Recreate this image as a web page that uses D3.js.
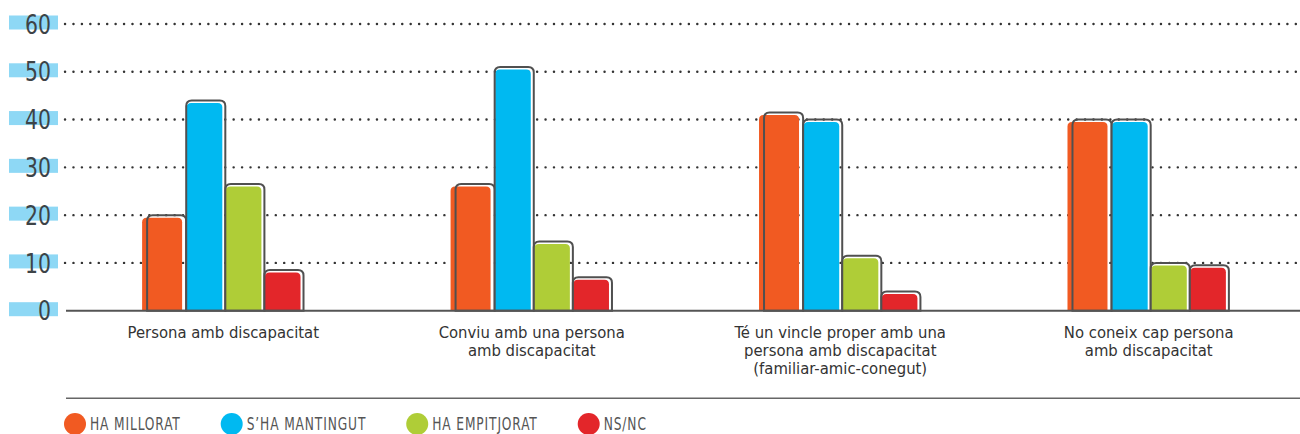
<!DOCTYPE html>
<html>
<head>
<meta charset="utf-8">
<script src="https://cdn.jsdelivr.net/npm/d3@7"></script>
<style>
  body { margin: 0; background: #fff; }
  text { font-family: "DejaVu Sans Condensed", "DejaVu Sans", sans-serif; }
</style>
</head>
<body>
<div id="chart"></div>
<script>
// Chart data
const categories = ["Persona amb discapacitat", "Conviu amb una persona amb discapacitat",
  "Té un vincle proper amb una persona amb discapacitat (familiar-amic-conegut)",
  "No coneix cap persona amb discapacitat"];
const categoryLines = [
  ["Persona amb discapacitat"],
  ["Conviu amb una persona", "amb discapacitat"],
  ["Té un vincle proper amb una", "persona amb discapacitat", "(familiar-amic-conegut)"],
  ["No coneix cap persona", "amb discapacitat"]
];
const seriesNames = ["HA MILLORAT", "S’HA MANTINGUT", "HA EMPITJORAT", "NS/NC"];
const haMillorat   = [20, 26.5, 41.5, 40];
const haMantingut  = [44, 51, 40, 40];
const haEmpitjorat = [26.5, 14.5, 11.5, 10];
const nsnc         = [8.5, 7, 4, 9.5];
const yTicks = [0, 10, 20, 30, 40, 50, 60];

const seriesValues = [haMillorat, haMantingut, haEmpitjorat, nsnc];
const colors = ["#f15a22", "#00b9f1", "#afcd37", "#e3262a"];

const width = 1300, height = 434;
const baseY = 310.7;

const svg = d3.select("#chart").append("svg")
  .attr("width", width)
  .attr("height", height);

// Scales
const y = d3.scaleLinear().domain([0, 60]).range([baseY, 24]);
const x0 = d3.scaleBand().domain(categories).range([66, 1306])
  .paddingInner(0.48).paddingOuter(0.25);
const x1 = d3.scaleBand().domain(seriesNames).range([4, x0.bandwidth()]);

// Y axis with blue highlight boxes
const yAxis = svg.append("g")
  .attr("transform", "translate(51,0)")
  .call(d3.axisLeft(y).tickValues(yTicks).tickSize(0).tickPadding(0));
yAxis.select(".domain").remove();
yAxis.selectAll(".tick").insert("rect", "text")
  .attr("x", -42).attr("y", -9)
  .attr("width", 49).attr("height", 14)
  .attr("fill", "#8ed8f5");
yAxis.selectAll(".tick text")
  .attr("fill", "#3d4347")
  .attr("font-size", 27)
  .attr("dy", "0.34em")
  .attr("transform", "scale(0.84,1)");

// Dotted grid lines
svg.append("g").selectAll("line")
  .data(yTicks.filter(d => d > 0))
  .join("line")
  .attr("x1", 65).attr("x2", 1298)
  .attr("y1", d => y(d)).attr("y2", d => y(d))
  .attr("stroke", "#333")
  .attr("stroke-width", 2.4)
  .attr("stroke-linecap", "round")
  .attr("stroke-dasharray", "0.1,8.33");

// Path for a rect with rounded top corners only
function topRounded(x, yTop, w, h, r) {
  r = Math.min(r, h, w / 2);
  return `M${x},${yTop + h}V${yTop + r}Q${x},${yTop} ${x + r},${yTop}` +
    `H${x + w - r}Q${x + w},${yTop} ${x + w},${yTop + r}V${yTop + h}Z`;
}

// Bars
const bars = [];
categories.forEach((c, ci) => {
  seriesNames.forEach((s, si) => {
    bars.push({ cat: c, series: s, si: si, value: seriesValues[si][ci] });
  });
});

const groups = svg.append("g").selectAll("g")
  .data(bars)
  .join("g")
  .attr("transform", d => `translate(${x0(d.cat) + x1(d.series)},0)`);

// colour fill, slightly lower and left of the outline
groups.append("path")
  .attr("fill", d => colors[d.si])
  .attr("d", d => {
    const top = y(d.value) + 2.5;
    const left = d.si === 0 ? -5 : 0.5;
    const w = d.si === 0 ? 40 : x1.bandwidth() - 3.5;
    return topRounded(left, top, w, baseY - top, 4.5);
  });

// dark outline
groups.append("path")
  .attr("fill", "none")
  .attr("stroke", "#505050")
  .attr("stroke-width", 2)
  .attr("d", d => {
    const top = y(d.value);
    return topRounded(0, top, x1.bandwidth(), baseY - top, 5.5);
  });

// Baseline
svg.append("line")
  .attr("x1", 66).attr("x2", 1300)
  .attr("y1", baseY).attr("y2", baseY)
  .attr("stroke", "#555")
  .attr("stroke-width", 2);

// Category labels
const labels = svg.append("g").selectAll("text")
  .data(categories)
  .join("text")
  .attr("x", d => x0(d) + x0.bandwidth() / 2)
  .attr("y", 338)
  .attr("text-anchor", "middle")
  .attr("fill", "#333")
  .attr("font-size", 16.5);
labels.each(function(d, i) {
  d3.select(this).selectAll("tspan")
    .data(categoryLines[i])
    .join("tspan")
    .attr("x", x0(d) + x0.bandwidth() / 2)
    .attr("dy", (t, j) => j === 0 ? 0 : 18)
    .text(t => t);
});

// Separator line
svg.append("line")
  .attr("x1", 66).attr("x2", 1300)
  .attr("y1", 398.3).attr("y2", 398.3)
  .attr("stroke", "#666")
  .attr("stroke-width", 1.5);

// Legend
const legend = svg.append("g");
const sx = 0.8;
let lx = 75;
seriesNames.forEach((s, i) => {
  legend.append("circle")
    .attr("cx", lx).attr("cy", 424).attr("r", 11)
    .attr("fill", colors[i]);
  const t = legend.append("text")
    .attr("transform", `translate(${lx + 15},430) scale(${sx},1)`)
    .attr("fill", "#555")
    .attr("font-size", 17)
    .attr("letter-spacing", 1.1)
    .text(s);
  lx += 15 + t.node().getComputedTextLength() * sx + 51;
});
</script>
</body>
</html>
